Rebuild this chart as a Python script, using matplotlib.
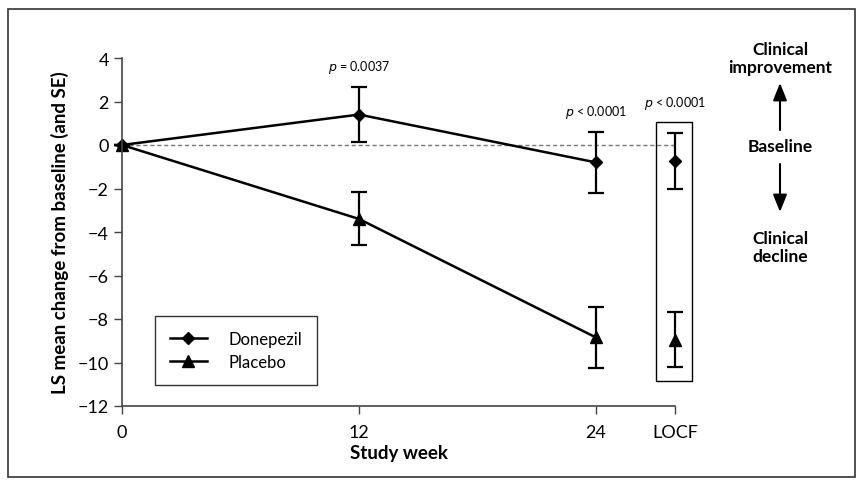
import matplotlib
matplotlib.use("Agg")
import matplotlib.pyplot as plt
from matplotlib.patches import Rectangle, FancyArrowPatch
from matplotlib.lines import Line2D

plt.rcParams['font.family'] = ['Lato', 'DejaVu Sans']

# Data (LS mean change from baseline, SE)
weeks = [0, 12, 24]
locf_x = 28
tick_pos = [0, 12, 24, 28]
tick_labels = ["0", "12", "24", "LOCF"]

donepezil_mean = [0.0, 1.4, -0.8]
donepezil_se = [0.0, 1.27, 1.42]
placebo_mean = [0.0, -3.4, -8.85]
placebo_se = [0.0, 1.22, 1.42]

donepezil_locf = -0.73
donepezil_locf_se = 1.3
placebo_locf = -8.95
placebo_locf_se = 1.27

p_labels = ["= 0.0037", "< 0.0001", "< 0.0001"]
p_x = [12, 24, 28]
p_y = [3.2, 1.15, 1.55]

fig = plt.figure(figsize=(8.63, 4.85), dpi=100)
ax = fig.add_axes([122/863, 1-407/485, (675-122)/863, (407-59)/485])

# baseline reference
ax.plot([0, locf_x], [0, 0], ls=(0, (3, 2)), color='#777777', lw=1, zorder=1)

ekw = dict(ecolor='black', elinewidth=1.6, capsize=6, capthick=1.6, clip_on=False)
ax.errorbar(weeks, donepezil_mean, yerr=donepezil_se, color='black', lw=1.8,
            marker='D', ms=6.5, **ekw)
ax.errorbar(weeks, placebo_mean, yerr=placebo_se, color='black', lw=1.8,
            marker='^', ms=8, **ekw)
ax.errorbar([locf_x], [donepezil_locf], yerr=[donepezil_locf_se], color='black',
            marker='D', ms=6.5, ls='none', **ekw)
ax.errorbar([locf_x], [placebo_locf], yerr=[placebo_locf_se], color='black',
            marker='^', ms=8, ls='none', **ekw)

# box around LOCF
ax.add_patch(Rectangle((27.05, -10.85), 1.8, 11.9, fill=False, ec='black',
                       lw=1, clip_on=False))

for x, y, s in zip(p_x, p_y, p_labels):
    ax.text(x, y, r"$\it{p}$ " + s, ha='center', va='bottom', fontsize=9)

ax.set_xlim(0, 28)
ax.set_ylim(-12, 4)
ax.set_xticks(tick_pos)
ax.set_xticklabels(tick_labels)
ax.set_yticks(range(-12, 5, 2))
ax.set_yticklabels([str(v).replace('-', '\u2212') for v in range(-12, 5, 2)])
ax.tick_params(labelsize=13, color='#444444', length=6, width=1)
ax.tick_params(axis='x', pad=7)
for side in ['top', 'right']:
    ax.spines[side].set_visible(False)
for side in ['left', 'bottom']:
    ax.spines[side].set_color('#444444')
    ax.spines[side].set_linewidth(1.2)

ax.set_xlabel("Study week", fontsize=13.5, fontweight='bold', labelpad=3)
ax.set_ylabel("LS mean change from baseline (and SE)", fontsize=13.5,
              fontweight='bold', labelpad=6)

handles = [Line2D([], [], color='black', lw=1.8, marker='D', ms=6.5),
           Line2D([], [], color='black', lw=1.8, marker='^', ms=8)]
leg = ax.legend(handles, ['Donepezil', 'Placebo'], loc='upper left',
                bbox_to_anchor=(33/553, 90/348), fontsize=12,
                frameon=True, fancybox=False, edgecolor='black',
                handlelength=2.2, borderpad=0.9, labelspacing=0.4,
                borderaxespad=0, handletextpad=1.3)
leg.get_frame().set_linewidth(1)

# right-hand annotation
fig.text(780/863, 1-59/485, "Clinical\nimprovement", ha='center', va='center',
         fontsize=12.5, fontweight='bold', linespacing=1.15)
fig.text(780/863, 1-147/485, "Baseline", ha='center', va='center',
         fontsize=12.5, fontweight='bold')
fig.text(780/863, 1-248/485, "Clinical\ndecline", ha='center', va='center',
         fontsize=12.5, fontweight='bold', linespacing=1.15)
arrow_style = '-|>,head_length=0.75,head_width=0.3'
fig.patches.append(FancyArrowPatch(
    (780/863, 1-131/485), (780/863, 1-84/485), transform=fig.transFigure,
    arrowstyle=arrow_style, mutation_scale=14,
    color='black', lw=1.5, shrinkA=0, shrinkB=0))
fig.patches.append(FancyArrowPatch(
    (780/863, 1-165/485), (780/863, 1-213/485), transform=fig.transFigure,
    arrowstyle=arrow_style, mutation_scale=14,
    color='black', lw=1.5, shrinkA=0, shrinkB=0))

# outer frame
fig.patches.append(Rectangle((8/863, 1-478/485), 847/863, 468/485,
                             transform=fig.transFigure, fill=False,
                             ec='#333333', lw=1.2))

fig.savefig("out.png", dpi=100)
